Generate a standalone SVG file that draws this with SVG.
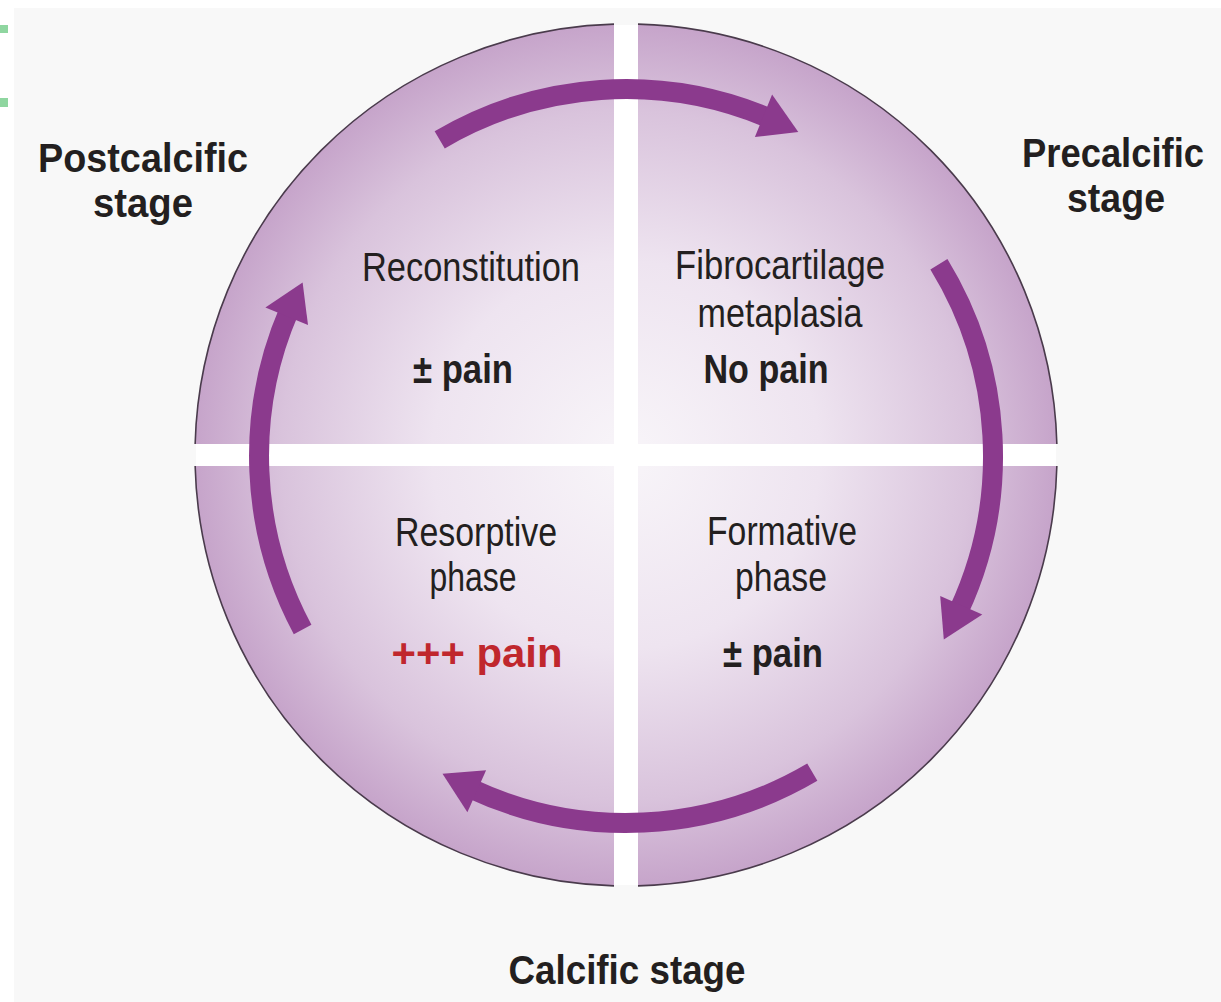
<svg xmlns="http://www.w3.org/2000/svg" width="1221" height="1002" viewBox="0 0 1221 1002">
<style>
.q{fill:url(#qg);stroke:none}
.rim{fill:none;stroke:#4a3b4c;stroke-width:1.6}
.gap{fill:#ffffff}
.t{font-family:"Liberation Sans",Arial,sans-serif;font-size:40px;fill:#231f20;text-anchor:middle}
.b{font-weight:bold}
.red{fill:#c0272d}
.arc{fill:none;stroke:#8b3a8d;stroke-width:20}
.head{fill:#8b3a8d}
</style>
<defs>
<radialGradient id="qg" gradientUnits="userSpaceOnUse" cx="626" cy="455" r="431">
<stop offset="0" stop-color="#f8f5f9"/>
<stop offset="0.45" stop-color="#eee4f0"/>
<stop offset="0.8" stop-color="#d9c3dc"/>
<stop offset="1" stop-color="#c6a4ca"/>
</radialGradient>
</defs>
<rect x="0" y="0" width="1221" height="1002" fill="#ffffff"/>
<rect x="14" y="8" width="1207" height="994" fill="#f8f8f8"/>
<rect x="0" y="25" width="8" height="8" fill="#8fd6a0"/>
<rect x="0" y="98" width="8" height="9" fill="#8fd6a0"/>
<rect class="gap" x="614" y="25" width="24" height="860"/>
<rect class="gap" x="196" y="444" width="860" height="22"/>

<g id="reconstitution">
<path class="q" d="M614 444 L614 24.17 A431 431 0 0 0 195.14 444 Z"/>
<path class="rim" d="M614 24.17 A431 431 0 0 0 195.14 444"/>
<text class="t" x="471" y="281" textLength="218" lengthAdjust="spacingAndGlyphs">Reconstitution</text>
<text class="t b" x="463" y="383" textLength="100" lengthAdjust="spacingAndGlyphs">± pain</text>
</g>
<g id="fibrocartilage">
<path class="q" d="M638 444 L638 24.17 A431 431 0 0 1 1056.86 444 Z"/>
<path class="rim" d="M638 24.17 A431 431 0 0 1 1056.86 444"/>
<text class="t" x="780" y="279" textLength="210" lengthAdjust="spacingAndGlyphs">Fibrocartilage</text>
<text class="t" x="780" y="327" textLength="165" lengthAdjust="spacingAndGlyphs">metaplasia</text>
<text class="t b" x="766" y="383" textLength="125" lengthAdjust="spacingAndGlyphs">No pain</text>
</g>
<g id="resorptive">
<path class="q" d="M614 466 L195.14 466 A431 431 0 0 0 614 885.83 Z"/>
<path class="rim" d="M195.14 466 A431 431 0 0 0 614 885.83"/>
<text class="t" x="476" y="546" textLength="162" lengthAdjust="spacingAndGlyphs">Resorptive</text>
<text class="t" x="473" y="591" textLength="87" lengthAdjust="spacingAndGlyphs">phase</text>
<text class="t b red" x="477" y="667" font-size="46" textLength="171" lengthAdjust="spacingAndGlyphs">+++ pain</text>
</g>
<g id="formative">
<path class="q" d="M638 466 L1056.86 466 A431 431 0 0 1 638 885.83 Z"/>
<path class="rim" d="M1056.86 466 A431 431 0 0 1 638 885.83"/>
<text class="t" x="782" y="545" textLength="150" lengthAdjust="spacingAndGlyphs">Formative</text>
<text class="t" x="781" y="591" textLength="92" lengthAdjust="spacingAndGlyphs">phase</text>
<text class="t b" x="773" y="667" textLength="100" lengthAdjust="spacingAndGlyphs">± pain</text>
</g>

<g id="postcalcific">
<text class="t b" x="143" y="172" font-size="45" textLength="210" lengthAdjust="spacingAndGlyphs">Postcalcific</text>
<text class="t b" x="143" y="217" font-size="45" textLength="100" lengthAdjust="spacingAndGlyphs">stage</text>
</g>
<g id="precalcific">
<text class="t b" x="1113" y="167" font-size="45" textLength="182" lengthAdjust="spacingAndGlyphs">Precalcific</text>
<text class="t b" x="1116" y="212" font-size="45" textLength="98" lengthAdjust="spacingAndGlyphs">stage</text>
</g>
<g id="calcific">
<text class="t b" x="627" y="984" font-size="45" textLength="237" lengthAdjust="spacingAndGlyphs">Calcific stage</text>
</g>

<g id="connectors">
<path class="arc" d="M439.7 139.8 A367 367 0 0 1 766.8 117.2"/>
<polygon class="head" points="772.1,94.4 798.3,132 754.9,137"/>
<path class="arc" d="M938.9 264.2 A367 367 0 0 1 958.6 611.1"/>
<polygon class="head" points="982.3,614.6 943.8,639.5 940.2,595.9"/>
<path class="arc" d="M812.3 772.2 A367 367 0 0 1 470.9 788.6"/>
<polygon class="head" points="486.1,770.2 442.5,773.8 467.4,812.3"/>
<path class="arc" d="M302.6 629.4 A367 367 0 0 1 289.2 310.3"/>
<polygon class="head" points="265.4,307.4 302.6,282.6 308,324.9"/>
</g>
</svg>
